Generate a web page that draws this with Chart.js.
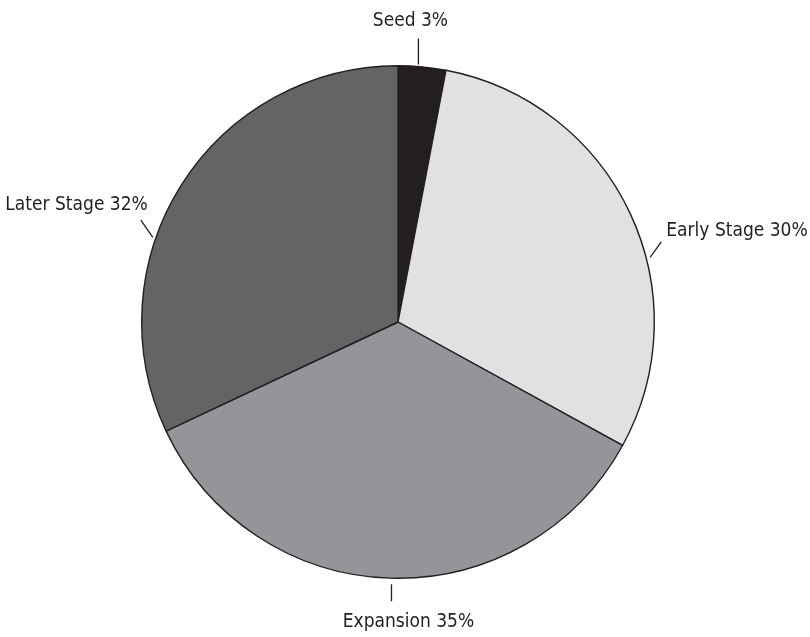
<!DOCTYPE html>
<html lang="en">
<head>
  <meta charset="utf-8" />
  <title>Venture Funding by Stage</title>
  <script src="https://cdn.jsdelivr.net/npm/chart.js"></script>
  <style>
    html, body { margin: 0; background: #fff; }
    #wrap { width: 810px; height: 637px; position: relative; }
  </style>
</head>
<body>
  <div id="wrap"><canvas id="pie"></canvas></div>
  <script>
    const stages = ['Seed', 'Early Stage', 'Expansion', 'Later Stage'];
    const shares = [3, 30, 35, 32];
    const fills = ['#231f20', '#e1e1e3', '#939598', '#636466'];

    // at: where along the slice the leader leaves the rim (0..1)
    // dir: direction of the leader in degrees (canvas, clockwise from +x)
    // dx/dy: text offset from the outer end of the leader
    const leaders = [
      { at: 0.42, gap: 2, len: 26, dir: -90, align: 'center', dx: -8, dy: -17 },
      { at: 0.6, gap: 4, len: 19, dir: -54, align: 'left', dx: 5, dy: -11 },
      { at: 0.497, gap: 6, len: 17, dir: 90, align: 'center', dx: 17, dy: 21 },
      { at: 0.384, gap: 3, len: 21, dir: -125, align: 'right', dx: 7, dy: -15 }
    ];

    const leaderLabels = {
      id: 'leaderLabels',
      afterDatasetsDraw(chart) {
        const ctx = chart.ctx;
        const arcs = chart.getDatasetMeta(0).data;
        ctx.save();
        ctx.strokeStyle = '#231f20';
        ctx.lineWidth = 1.3;
        ctx.fillStyle = '#231f20';
        ctx.font = '19px "DejaVu Sans Condensed", "Liberation Sans Narrow", sans-serif';
        ctx.textBaseline = 'middle';
        arcs.forEach((arc, i) => {
          const p = arc.getProps(['x', 'y', 'startAngle', 'endAngle', 'outerRadius'], true);
          const L = leaders[i];
          const a = p.startAngle + (p.endAngle - p.startAngle) * L.at;
          const r0 = p.outerRadius + L.gap;
          const x0 = p.x + Math.cos(a) * r0, y0 = p.y + Math.sin(a) * r0;
          const d = L.dir * Math.PI / 180;
          const x1 = x0 + Math.cos(d) * L.len, y1 = y0 + Math.sin(d) * L.len;
          ctx.beginPath();
          ctx.moveTo(x0, y0);
          ctx.lineTo(x1, y1);
          ctx.stroke();
          ctx.textAlign = L.align;
          ctx.fillText(stages[i] + ' ' + shares[i] + '%', x1 + L.dx, y1 + L.dy);
        });
        ctx.restore();
      }
    };

    new Chart(document.getElementById('pie'), {
      type: 'pie',
      data: {
        labels: stages,
        datasets: [{
          data: shares,
          backgroundColor: fills,
          borderColor: '#231f20',
          borderWidth: 1.4
        }]
      },
      options: {
        responsive: true,
        maintainAspectRatio: false,
        animation: false,
        layout: { padding: { top: 65, bottom: 58, left: 141, right: 155 } },
        plugins: {
          legend: { display: false },
          tooltip: { enabled: false }
        }
      },
      plugins: [leaderLabels]
    });
  </script>
</body>
</html>
